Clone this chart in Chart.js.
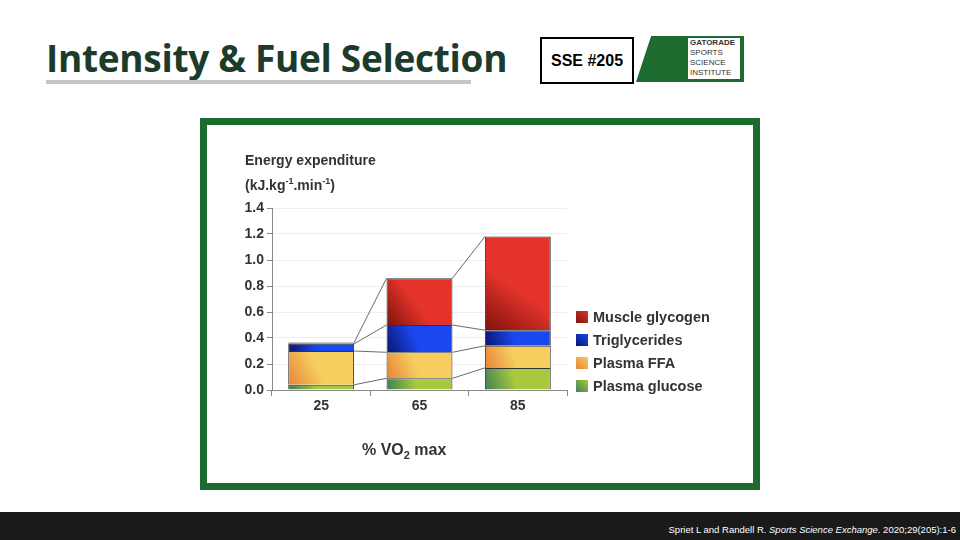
<!DOCTYPE html>
<html>
<head>
<meta charset="utf-8">
<script src="https://cdn.jsdelivr.net/npm/chart.js@4"></script>
<style>
  body { margin: 0; width: 960px; height: 540px; position: relative; background: #fff; font-family: "Liberation Sans", Arial, sans-serif; overflow: hidden; }
  #title { position: absolute; left: 46px; top: 32px; font: bold 37px "Open Sans", "DejaVu Sans", sans-serif; color: #1c3b2a; letter-spacing: -0.3px; }
  #rule { position: absolute; left: 46px; top: 80px; width: 425px; height: 4px; background: #c4c4c4; }
  #sse { position: absolute; left: 540px; top: 37px; width: 90px; height: 43px; border: 2px solid #000; font: bold 16px "Liberation Sans", sans-serif; line-height: 43px; text-align: center; }
  #logo { position: absolute; left: 636px; top: 36px; width: 108px; height: 46px; background: #1e6b30; clip-path: polygon(14% 0, 100% 0, 100% 100%, 0 100%); }
  #logoText { position: absolute; left: 688px; top: 38px; width: 52px; height: 41px; background: #fff; font: 8px/10px "Liberation Sans Narrow", "Liberation Sans", sans-serif; color: #333; padding-left: 2px; box-sizing: border-box; overflow: hidden; }
  #frame { position: absolute; left: 200px; top: 118px; width: 546px; height: 358px; border: 7px solid #1e6b30; background: #fff; }
  #chartBox { position: absolute; left: 0; top: 0; width: 546px; height: 358px; }
  #ytitle { position: absolute; left: 38px; top: 25px; font: bold 14px "Liberation Sans", sans-serif; color: #333; line-height: 21px; }
  #xtitle { position: absolute; left: 155px; top: 316px; font: bold 16px "Liberation Sans", sans-serif; color: #333; }
  #footer { position: absolute; left: 0; top: 512px; width: 960px; height: 28px; background: #1a1a1a; color: #fff; font: 9.5px "Liberation Sans", sans-serif; text-align: right; line-height: 36px; padding-right: 4px; box-sizing: border-box; }
</style>
</head>
<body>
<div id="title">Intensity &amp; Fuel Selection</div>
<div id="rule"></div>
<div id="sse">SSE #205</div>
<div id="logo"></div>
<div id="logoText"><b>GATORADE</b><br>SPORTS<br>SCIENCE<br>INSTITUTE</div>
<div id="frame">
  <div id="chartBox"><canvas id="c" width="546" height="358"></canvas></div>
  <div id="ytitle">Energy expenditure<br>(kJ.kg<sup style="font-size:9px">-1</sup>.min<sup style="font-size:9px">-1</sup>)</div>
  <div id="xtitle">% VO<sub style="font-size:11px">2</sub> max</div>
</div>
<div id="footer">Spriet L and Randell R. <i>Sports Science Exchange</i>. 2020;29(205):1-6</div>
<script>
const categories = ["25", "65", "85"];
const plasmaGlucose = [0.04, 0.09, 0.17];
const plasmaFFA = [0.26, 0.20, 0.17];
const triglycerides = [0.055, 0.21, 0.12];
const muscleGlycogen = [0.01, 0.36, 0.72];
const yTicks = [0, 0.2, 0.4, 0.6, 0.8, 1.0, 1.2, 1.4];

// gradient stops per fuel: dark, light
const shades = {
  "Plasma glucose": ["#3f7f55", "#a8c83e"],
  "Plasma FFA": ["#e9843a", "#f6cd5e"],
  "Triglycerides": ["#0a1570", "#1a48f0"],
  "Muscle glycogen": ["#7e130c", "#e3332a"],
};

function makeSet(label, data) {
  return { label, data, backgroundColor: shades[label][1], borderColor: "#333", borderWidth: 1, stack: "s" };
}

// give every bar segment its own diagonal gradient once the layout is known
const barShading = {
  id: "barShading",
  beforeDatasetsDraw(chart) {
    const ctx = chart.ctx;
    chart.data.datasets.forEach((ds, i) => {
      chart.getDatasetMeta(i).data.forEach((el) => {
        const w = el.width / 2;
        const g = ctx.createLinearGradient(el.x - w, el.base, el.x + w, el.y);
        g.addColorStop(0, shades[ds.label][0]);
        g.addColorStop(0.45, shades[ds.label][1]);
        g.addColorStop(1, shades[ds.label][1]);
        el.options = Object.assign({}, el.options, { backgroundColor: g });
      });
    });
  }
};

// thin lines joining the segment tops of neighbouring bars
const connectors = {
  id: "connectors",
  afterDatasetsDraw(chart) {
    const ctx = chart.ctx;
    ctx.save();
    ctx.strokeStyle = "#444";
    ctx.lineWidth = 0.8;
    chart.data.datasets.forEach((ds, i) => {
      const bars = chart.getDatasetMeta(i).data;
      for (let k = 0; k < bars.length - 1; k++) {
        const a = bars[k], b = bars[k + 1];
        ctx.beginPath();
        ctx.moveTo(a.x + a.width / 2, a.y);
        ctx.lineTo(b.x - b.width / 2, b.y);
        ctx.stroke();
      }
    });
    ctx.restore();
  }
};

// legend to the right of the plot, glycogen on top
const sideLegend = {
  id: "sideLegend",
  afterDraw(chart) {
    const ctx = chart.ctx;
    const x = 369, y0 = 186, step = 23;
    const sets = chart.data.datasets.slice().reverse();
    ctx.save();
    sets.forEach((ds, i) => {
      const y = y0 + i * step;
      const g = ctx.createLinearGradient(x, y + 12, x + 12, y);
      g.addColorStop(0, shades[ds.label][0]);
      g.addColorStop(1, shades[ds.label][1]);
      ctx.fillStyle = g;
      ctx.fillRect(x, y, 12, 12);
      ctx.fillStyle = "#333";
      ctx.font = "bold 14.5px 'Liberation Sans', sans-serif";
      ctx.textBaseline = "middle";
      ctx.fillText(ds.label, x + 17, y + 7);
    });
    ctx.restore();
  }
};

new Chart(document.getElementById("c"), {
  type: "bar",
  data: {
    labels: categories,
    datasets: [
      makeSet("Plasma glucose", plasmaGlucose),
      makeSet("Plasma FFA", plasmaFFA),
      makeSet("Triglycerides", triglycerides),
      makeSet("Muscle glycogen", muscleGlycogen),
    ],
  },
  options: {
    responsive: false,
    animation: false,
    layout: { padding: { top: 83, right: 186, left: 0, bottom: 0 } },
    plugins: { legend: { display: false }, tooltip: { enabled: false } },
    datasets: { bar: { categoryPercentage: 1, barPercentage: 0.67 } },
    scales: {
      x: {
        stacked: true,
        afterFit: (s) => { s.height = 93; },
        grid: { offset: true, drawOnChartArea: false, tickLength: 6, color: "#888" },
        border: { color: "#888" },
        ticks: { color: "#333", font: { family: "Liberation Sans", size: 14, weight: "bold" }, padding: 2 },
      },
      y: {
        stacked: true,
        min: 0,
        max: 1.4,
        afterFit: (s) => { s.width = 65; },
        afterBuildTicks: (s) => { s.ticks = yTicks.map((v) => ({ value: v })); },
        grid: { color: "#eeeeee", tickLength: 5, tickColor: "#888" },
        border: { color: "#888" },
        ticks: {
          color: "#333",
          font: { family: "Liberation Sans", size: 14, weight: "bold" },
          callback: (v) => v.toFixed(1),
        },
      },
    },
  },
  plugins: [barShading, connectors, sideLegend],
});
</script>
</body>
</html>
